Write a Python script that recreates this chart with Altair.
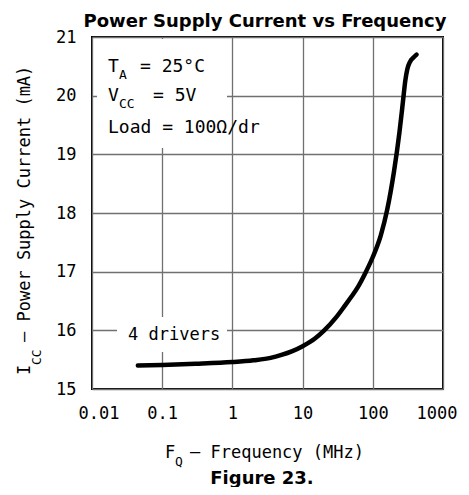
import altair as alt
import pandas as pd

# ---- data ----
freq_mhz = [0.045, 0.1, 0.3, 1, 2, 3.5, 5, 7, 10, 15, 20, 30, 40, 50, 60, 80,
            100, 130, 160, 200, 240, 270, 290, 310, 340, 380, 420]
icc_ma = [15.40, 15.41, 15.43, 15.46, 15.49, 15.53, 15.58, 15.64, 15.73, 15.86,
          15.99, 16.22, 16.42, 16.58, 16.72, 17.00, 17.25, 17.62, 18.05, 18.70,
          19.38, 19.92, 20.25, 20.45, 20.58, 20.65, 20.70]
x_ticks = [0.01, 0.1, 1, 10, 100, 1000]
y_ticks = [15, 16, 17, 18, 19, 20, 21]

title_text = "Power Supply Current vs Frequency"
figure_text = "Figure 23."
series_label = "4 drivers"
cond_lines = [("T", "A", "= 25°C"), ("V", "CC", "= 5V")]
load_text = "Load = 100Ω/dr"
y_title = ("I", "CC", " – Power Supply Current (mA)")
x_title = ("F", "Q", " – Frequency (MHz)")

MONO = "DejaVu Sans Mono"
BOLD = "DejaVu Sans"
W, H = 351, 352

df = pd.DataFrame({"f": freq_mhz, "i": icc_ma})

xscale = alt.Scale(type="log", domain=[0.01, 1000], nice=False)
yscale = alt.Scale(domain=[15, 21], nice=False, zero=False)

curve = alt.Chart(df).mark_line(
    color="black", strokeWidth=4.5, interpolate="monotone", strokeCap="round"
).encode(
    x=alt.X("f:Q", scale=xscale, axis=alt.Axis(
        values=x_ticks, labelExpr="format(datum.value, '~g')", grid=True,
        gridColor="#707070", gridWidth=1.3, ticks=False, domain=False,
        labelFont=MONO, labelFontSize=17, labelColor="black", labelFlush=True,
        labelFlushOffset=14, labelOverlap=False, labelBaseline="alphabetic",
        labelPadding=29, title=None)),
    y=alt.Y("i:Q", scale=yscale, axis=alt.Axis(
        values=y_ticks, grid=True, gridColor="#707070", gridWidth=1.3,
        ticks=False, domain=False, labelFont=MONO, labelFontSize=17,
        labelColor="black", labelAlign="right", labelBaseline="middle",
        labelFlush=False, labelOverlap=False, labelPadding=16, title=None)),
)


def one():
    return alt.Data(values=[{"k": 0}])


def mask(x1, x2, y1, y2):
    return alt.Chart(one()).mark_rect(color="white").encode(
        x=alt.value(x1), x2=alt.value(x2), y=alt.value(y1), y2=alt.value(y2))


def label(txt, x, y, size=17, font=MONO, align="left", angle=0, bold=False):
    return alt.Chart(alt.Data(values=[{"t": txt}])).mark_text(
        align=align, baseline="alphabetic", font=font, fontSize=size,
        fontWeight="bold" if bold else "normal", angle=angle, color="black"
    ).encode(text="t:N", x=alt.value(x), y=alt.value(y))


layers = [
    mask(5, 135, 2, 111),
    mask(25, 135, 280, 315),
    curve,
    # condition box
    label(cond_lines[0][0], 16, 35, 18),
    label(cond_lines[0][1], 27, 42, 13),
    label(cond_lines[0][2], 48, 35, 18),
    label(cond_lines[1][0], 16, 64, 18),
    label(cond_lines[1][1], 27, 71, 13),
    label(cond_lines[1][2], 61, 64, 18),
    label(load_text, 16, 96, 18),
    label(series_label, 36, 303, 17),
    # y axis title
    label(y_title[0], -62, 338, 17, angle=270),
    label(y_title[1], -51, 328, 13, angle=270),
    label(y_title[2], -62, 305, 17, angle=270),
    # x axis title
    label(x_title[0], 73, 421, 17),
    label(x_title[1], 83, 429, 13),
    label(x_title[2], 98, 421, 17),
    # titles
    label(title_text, 173, -10, 18, font=BOLD, align="center", bold=True),
    label(figure_text, 170, 447, 18, font=BOLD, align="center", bold=True),
]

chart = alt.layer(*layers).properties(
    width=W, height=H,
    autosize=alt.AutoSizeParams(type="none"),
    padding={"left": 84, "top": 29, "right": 18, "bottom": 98},
).configure_view(stroke="black", strokeWidth=2)

chart.save("out.html", embed_options={"renderer": "svg", "actions": False})
